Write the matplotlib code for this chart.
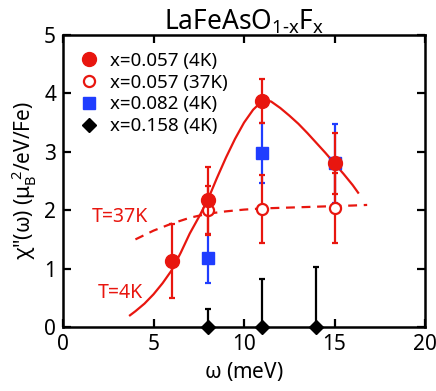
import matplotlib.pyplot as plt

plt.rcParams['font.family'] = ['Noto Sans', 'DejaVu Sans']
plt.rcParams['mathtext.fontset'] = 'custom'
plt.rcParams['mathtext.rm'] = 'Noto Sans'
plt.rcParams['mathtext.it'] = 'Noto Sans'

red = '#e8160f'
blue = '#1f3dff'

# x=0.057, 4K
w_4k = [6, 8, 11, 15]
chi_4k = [1.13, 2.17, 3.87, 2.80]
err_4k = [0.63, 0.57, 0.38, 0.53]

# x=0.057, 37K
w_37k = [8, 11, 15]
chi_37k = [2.00, 2.02, 2.03]
err_37k = [0.42, 0.58, 0.60]

# x=0.082, 4K
w_082 = [8, 11, 15]
chi_082 = [1.18, 2.98, 2.80]
err_082 = [0.42, 0.52, 0.68]

# x=0.158, 4K
w_158 = [8, 11, 14]
chi_158 = [0, 0, 0]
err_158_up = [0.30, 0.82, 1.03]

# guide curves
fit4_w = [3.7, 4.0, 4.5, 5.0, 5.5, 6.0, 6.5, 7.0, 7.5, 8.0, 8.5, 9.0, 9.5, 10.0,
          10.5, 10.9, 11.2, 11.5, 12.0, 12.5, 13.0, 13.5, 14.0, 14.5, 15.0, 15.5,
          16.0, 16.3]
fit4_chi = [0.20, 0.27, 0.40, 0.56, 0.75, 0.97, 1.27, 1.60, 1.88, 2.18, 2.55, 2.90,
            3.22, 3.50, 3.72, 3.84, 3.88, 3.86, 3.75, 3.62, 3.48, 3.32, 3.15, 2.98,
            2.80, 2.62, 2.43, 2.30]
fit37_w = [4.0, 5.0, 6.0, 7.0, 8.0, 9.0, 10.0, 11.0, 12.0, 13.0, 14.0, 15.0, 16.0, 16.8]
fit37_chi = [1.50, 1.65, 1.77, 1.87, 1.94, 1.98, 2.01, 2.03, 2.04, 2.05, 2.06, 2.07, 2.08, 2.09]

fig = plt.figure(figsize=(4.36, 3.91), dpi=100)
ax = fig.add_axes([0.1445, 0.1637, 0.8305, 0.7468])

ax.plot(fit4_w, fit4_chi, '-', color=red, lw=1.6, zorder=2)
ax.plot(fit37_w, fit37_chi, '--', color=red, lw=1.6, dashes=(4, 3), zorder=2)

ekw = dict(elinewidth=1.6, capsize=2.5, capthick=1.6, linestyle='none')
ax.errorbar(w_158, chi_158, yerr=[[0, 0, 0], err_158_up], fmt='D', color='black',
            ms=7.5, label='x=0.158 (4K)', zorder=3, clip_on=False, **ekw)
ax.errorbar(w_082, chi_082, yerr=err_082, fmt='s', color=blue, ms=9,
            label='x=0.082 (4K)', zorder=4, **ekw)
ax.errorbar(w_37k, chi_37k, yerr=err_37k, fmt='o', color=red, mfc='white',
            mec=red, mew=1.6, ms=8, label='x=0.057 (37K)', zorder=5, **ekw)
ax.errorbar(w_4k, chi_4k, yerr=err_4k, fmt='o', color=red, ms=10,
            label='x=0.057 (4K)', zorder=6, **ekw)

ax.text(1.6, 1.88, 'T=37K', color=red, fontsize=14, va='center')
ax.text(1.9, 0.58, 'T=4K', color=red, fontsize=14, va='center')

handles, labels = ax.get_legend_handles_labels()
order = [3, 2, 1, 0]
leg = ax.legend([handles[i][0] for i in order], [labels[i] for i in order],
                loc='upper left', frameon=False, fontsize=13.5, handlelength=1.0,
                handletextpad=0.6, labelspacing=0.2, borderaxespad=0.5)

ax.set_xlim(0, 20)
ax.set_ylim(0, 5)
ax.set_xticks([0, 5, 10, 15, 20])
ax.set_yticks([0, 1, 2, 3, 4, 5])
ax.tick_params(direction='in', top=True, right=True, length=6, width=1.6,
               labelsize=15, pad=5)
for s in ax.spines.values():
    s.set_linewidth(1.8)

ax.set_xlabel(r'$\omega$ (meV)', fontsize=15)
ax.set_ylabel(r'$\chi$"($\omega$) ($\mu_{\rm B}^{\ 2}$/eV/Fe)', fontsize=15)
ax.set_title(r'LaFeAsO$_{\rm 1\text{-}x}$F$_{\rm x}$', fontsize=19, pad=4)

fig.savefig('out.png', dpi=100)
